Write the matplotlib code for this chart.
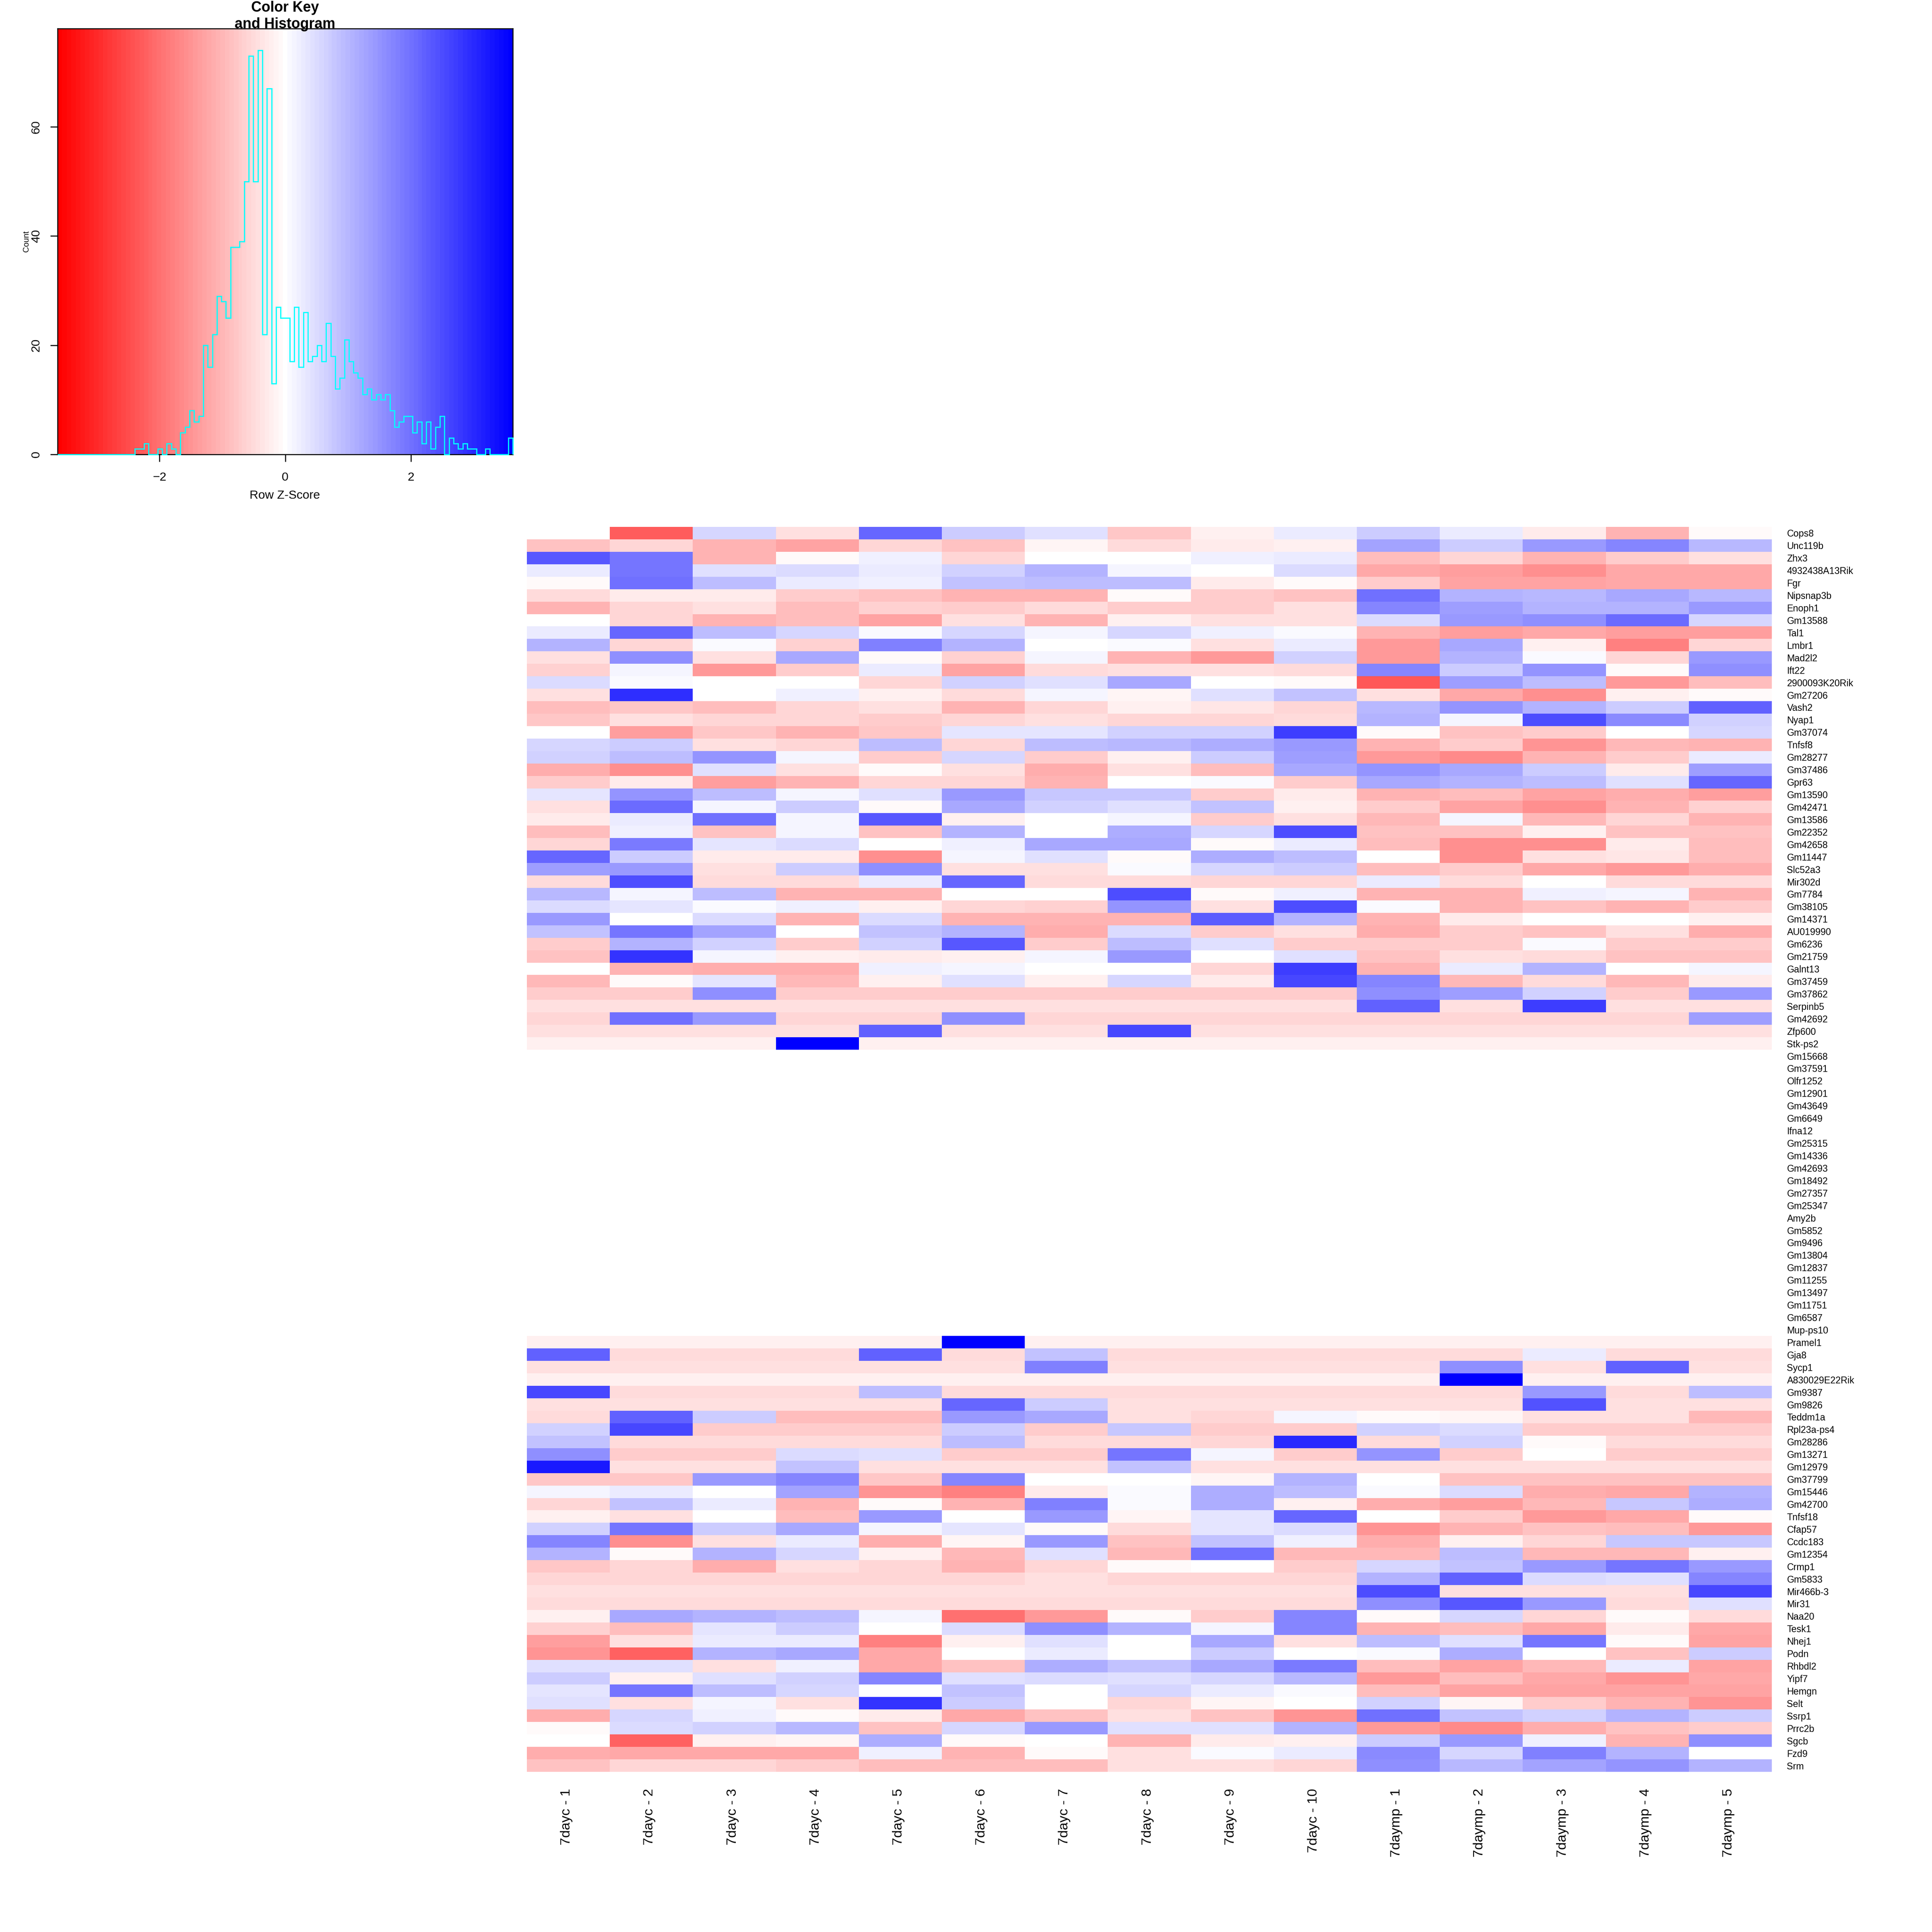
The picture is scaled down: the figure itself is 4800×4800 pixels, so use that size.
import numpy as np
import matplotlib
matplotlib.use("Agg")
import matplotlib.pyplot as plt
from matplotlib.colors import LinearSegmentedColormap

plt.rcParams['font.family'] = ['Liberation Sans', 'DejaVu Sans']

samples = ["7dayc - 1", "7dayc - 2", "7dayc - 3", "7dayc - 4", "7dayc - 5",
           "7dayc - 6", "7dayc - 7", "7dayc - 8", "7dayc - 9", "7dayc - 10",
           "7daymp - 1", "7daymp - 2", "7daymp - 3", "7daymp - 4", "7daymp - 5"]

genes = ["Cops8", "Unc119b", "Zhx3", "4932438A13Rik", "Fgr", "Nipsnap3b", "Enoph1", "Gm13588",
         "Tal1", "Lmbr1", "Mad2l2", "Ift22", "2900093K20Rik", "Gm27206", "Vash2", "Nyap1",
         "Gm37074", "Tnfsf8", "Gm28277", "Gm37486", "Gpr63", "Gm13590", "Gm42471", "Gm13586",
         "Gm22352", "Gm42658", "Gm11447", "Slc52a3", "Mir302d", "Gm7784", "Gm38105", "Gm14371",
         "AU019990", "Gm6236", "Gm21759", "Galnt13", "Gm37459", "Gm37862", "Serpinb5", "Gm42692",
         "Zfp600", "Stk-ps2", "Gm15668", "Gm37591", "Olfr1252", "Gm12901", "Gm43649", "Gm6649",
         "Ifna12", "Gm25315", "Gm14336", "Gm42693", "Gm18492", "Gm27357", "Gm25347", "Amy2b",
         "Gm5852", "Gm9496", "Gm13804", "Gm12837", "Gm11255", "Gm13497", "Gm11751", "Gm6587",
         "Mup-ps10", "Pramel1", "Gja8", "Sycp1", "A830029E22Rik", "Gm9387", "Gm9826", "Teddm1a",
         "Rpl23a-ps4", "Gm28286", "Gm13271", "Gm12979", "Gm37799", "Gm15446", "Gm42700", "Tnfsf18",
         "Cfap57", "Ccdc183", "Gm12354", "Crmp1", "Gm5833", "Mir466b-3", "Mir31", "Naa20",
         "Tesk1", "Nhej1", "Podn", "Rhbdl2", "Yipf7", "Hemgn", "Selt", "Ssrp1",
         "Prrc2b", "Sgcb", "Fzd9", "Srm"]

# z scores, rows above the blank block
z_top = [
    [0, -2.3, .55, -.45, 2.15, .7, .42, -.8, -.2, .3, .7, .3, -.3, -1.05, -.05],
    [-.85, -.6, -1.1, -1.3, -.55, -.85, -.15, -.5, -.3, -.2, 1.3, .7, 1.4, 1.75, 1.0],
    [2.4, 1.9, -1.1, -.05, .2, -.6, 0, 0, .2, .3, -.95, -.55, -1.05, -.75, -.4],
    [.3, 1.9, .42, .5, .3, .65, 1.05, .15, 0, .5, -1.2, -1.35, -1.55, -1.25, -1.25],
    [-.05, 2.0, .95, .3, .2, .85, .9, .9, -.3, -.05, -.75, -1.3, -1.3, -1.25, -1.2],
    [-.5, -.3, -.3, -.7, -.85, -1.05, -1.1, -.05, -.75, -.85, 2.0, 1.05, 1.0, 1.2, 1.0],
    [-1.05, -.55, -.4, -.95, -.65, -.72, -.5, -.72, -.75, -.4, 1.75, 1.35, 1.05, 1.05, 1.45],
    [0, -.58, -1.05, -.9, -1.3, -.45, -1.05, -.2, -.4, -.4, .5, 1.4, 1.55, 2.1, .55],
    [.3, 2.15, .95, .55, .08, .55, .15, .55, .2, .08, -1.1, -1.35, -1.25, -1.35, -1.35],
    [1.05, -.58, .07, -.65, 1.8, 1.05, 0, .07, -.45, .3, -1.4, 1.25, -.2, -1.8, -.55],
    [-.4, 1.55, -.4, 1.2, -.07, -.65, .15, -1.1, -1.4, .65, -1.4, 1.1, .07, -.6, 1.45],
    [-.65, .15, -1.4, -.75, .3, -1.3, -.5, -.42, -.42, -.5, 1.75, .75, 1.5, -.05, 1.55],
    [.5, .07, 0, 0, -.58, .65, .42, 1.25, 0, -.05, -2.35, 1.35, .9, -1.45, -.95],
    [-.4, 2.95, 0, .2, -.2, -.5, .15, -.15, .42, .85, -.42, -1.25, -1.55, -.2, -.05],
    [-.95, -.8, -.95, -.6, -.45, -1.05, -.6, -.25, -.35, -.55, 1.0, 1.5, 1.1, .75, 2.2],
    [-.8, -.42, -.6, -.6, -.7, -.6, -.42, -.6, -.6, -.5, 1.05, .15, 2.5, 1.65, .65],
    [0, -1.35, -.8, -1.05, -.8, .35, .35, .65, .65, 2.75, -.1, -.85, -.7, 0, .55],
    [.55, .7, -.4, -.6, .95, -.6, .95, 1.0, 1.15, 1.4, -1.05, -.75, -1.5, -1.0, -1.05],
    [.65, .95, 1.5, .15, -.7, .55, -.7, -.25, .7, 1.35, -1.4, -1.65, -1.05, -.75, .3],
    [-1.15, -1.6, .4, -.45, -.07, -.45, -1.15, -.4, -.95, 1.2, 1.5, 1.2, .7, -.3, 1.35],
    [-.75, -.3, -1.35, -1.05, -.55, -.6, -1.05, 0, .07, -.7, 1.25, 1.1, .95, .45, 2.15],
    [.35, 1.5, .95, .15, .4, 1.45, .8, .8, -.72, -.3, -1.05, -.9, -1.3, -1.15, -1.35],
    [-.4, 2.05, .15, .7, -.07, 1.2, .65, .4, .85, -.25, -.7, -1.3, -1.6, -1.05, -.65],
    [-.3, .3, 2.0, .15, 2.35, -.2, 0, .15, -.75, -.42, -1.0, .15, -1.0, -.55, -1.05],
    [-.9, .2, -.85, .15, -.85, 1.05, 0, 1.15, .55, 2.5, -.85, -.85, -.2, -.85, -.85],
    [-.6, 1.85, .35, .5, 0, .2, 1.2, 1.2, -.07, .3, -.95, -1.55, -1.55, -.3, -.95],
    [2.15, .75, -.27, -.27, -1.6, .15, .45, -.05, 1.15, .95, 0, -1.55, -.45, -.35, -.95],
    [1.35, 1.45, -.45, .7, 1.55, -.42, -.42, .1, .6, .7, -.9, -.7, -1.2, -1.45, -1.15],
    [-.5, 2.5, -.5, -.5, .3, 2.15, -.5, -.5, -.55, -.55, .3, -.5, 0, -.5, -.5],
    [1.0, .15, .95, -1.1, -1.1, 0, 0, 2.5, -.1, .2, -1.1, -1.1, .22, .15, -1.1],
    [.5, .35, .07, .2, -.2, -.55, -.65, 1.5, -.4, 2.5, .07, -1.1, -.85, -1.1, -.7],
    [1.4, 0, .5, -1.1, .5, -1.1, -1.1, -1.1, 2.3, 1.05, -1.1, -.3, 0, 0, -.2],
    [.85, 1.9, 1.3, 0, .85, 1.05, -1.15, .5, -.7, -.4, -1.15, -.7, -.85, -.45, -1.15],
    [-.75, 1.05, .65, -.7, .65, 2.4, -.75, .9, .45, -.75, -.75, -.75, .07, -.75, -.75],
    [-.85, 2.85, .15, -.2, -.3, -.2, .15, 1.4, 0, .45, -.85, -.4, -.5, -.85, -.85],
    [0, -1.05, -1.15, -1.15, .2, .15, 0, 0, -.55, 2.75, -1.05, .3, 1.1, 0, .15],
    [-1.0, -.07, .35, -1.0, -.2, .45, -.2, .55, -.3, 2.6, 1.75, -1.0, -.5, -1.0, -.3],
    [-.7, -.7, 1.55, -.7, -.7, -.7, -.7, -.7, -.7, -.7, 1.55, 1.35, .65, -.7, 1.45],
    [-.42, -.42, -.42, -.42, -.42, -.42, -.42, -.42, -.42, -.42, 2.2, -.42, 2.75, -.42, -.42],
    [-.6, 2.0, 1.4, -.6, -.6, 1.55, -.6, -.6, -.6, -.6, -.6, -.6, -.6, -.6, 1.35],
    [-.42, -.42, -.42, -.42, 2.25, -.42, -.42, 2.6, -.42, -.42, -.42, -.42, -.42, -.42, -.42],
    [-.2, -.2, -.2, 3.62, -.2, -.2, -.2, -.2, -.2, -.2, -.2, -.2, -.2, -.2, -.2],
]

# rows below the blank block
z_bottom = [
    [-.2, -.2, -.2, -.2, -.2, 3.62, -.2, -.2, -.2, -.2, -.2, -.2, -.2, -.2, -.2],
    [2.25, -.5, -.5, -.5, 2.2, -.5, .85, -.5, -.5, -.5, -.5, -.5, .3, -.5, -.5],
    [-.42, -.42, -.42, -.42, -.42, -.42, 1.8, -.42, -.42, -.42, -.42, 1.55, -.42, 2.25, -.42],
    [-.2, -.2, -.2, -.2, -.2, -.2, -.2, -.2, -.2, -.2, -.2, 3.62, -.2, -.2, -.2],
    [2.6, -.5, -.5, -.5, .95, -.5, -.5, -.5, -.5, -.5, -.5, -.5, 1.4, -.5, .95],
    [-.42, -.42, -.42, -.42, -.42, 2.15, .7, -.42, -.42, -.42, -.42, -.42, 2.45, -.42, -.42],
    [-.48, 2.25, .7, -.95, -.95, 1.4, 1.2, -.45, -.55, .15, -.07, -.12, -.42, -.42, -1.0],
    [.65, 2.6, -.7, -.7, -.7, .7, -.7, .8, -.7, -.7, .65, .5, -.7, -.7, -.7],
    [.85, -.52, -.52, -.52, -.52, .95, -.52, -.52, -.55, 3.0, -.52, .65, -.05, -.52, -.52],
    [1.6, -.72, -.72, .5, .42, -.72, -.72, 1.9, .15, -.75, 1.5, -.72, 0, -.72, -.72],
    [3.2, -.42, -.42, .85, -.42, -.42, -.42, .85, -.42, -.42, -.42, -.42, -.42, -.42, -.42],
    [-.8, -.8, 1.45, 1.7, -.8, 1.7, 0, 0, -.12, 1.1, 0, -.85, -.85, -.85, -.85],
    [.15, .3, 0, 1.3, -1.5, -1.8, -.3, .07, 1.15, .95, .07, .5, -1.15, -1.2, 1.05],
    [-.55, .85, .3, -1.1, -.1, -1.1, 1.8, .07, 1.15, -.2, -1.15, -1.35, -1.0, .8, 1.15],
    [-.25, -.42, -.03, -.9, 1.4, 0, 1.4, -.12, .35, 2.15, 0, -.7, -1.4, -1.2, -.05],
    [.65, 1.9, .7, 1.2, .15, .35, -.05, -.5, .35, .5, -1.5, -1.05, -.85, -.9, -1.4],
    [1.75, -1.6, -.42, .3, -1.15, -.15, 1.45, -.85, .85, .2, -1.15, -.2, -.6, .8, .8],
    [1.1, -.05, 1.05, .55, -.2, -1.0, .42, -1.0, 2.0, -1.0, -1.0, .95, -1.0, -1.0, -.2],
    [-.8, -.55, -1.15, -.42, -.6, -1.05, -.6, -.1, 0, -.75, .6, .85, 1.4, 1.9, 1.4],
    [-.6, -.6, -.6, -.6, -.6, -.6, -.45, -.6, -.6, -.6, 1.1, 2.25, .5, .4, 1.75],
    [-.4, -.4, -.4, -.4, -.4, -.4, -.4, -.4, -.4, -.4, 2.5, -.4, -.4, -.4, 2.6],
    [-.5, -.5, -.5, -.5, -.5, -.5, -.5, -.5, -.5, -.5, 1.55, 2.4, 1.45, -.5, .4],
    [-.2, 1.2, 1.05, .95, .15, -2.0, -1.4, -.07, -.7, 1.7, -.1, .55, -.55, -.05, -.5],
    [-.65, -.95, .35, .7, 0, .5, 1.55, 1.1, .15, 1.7, -1.1, -.95, -1.2, -.3, -1.25],
    [-1.35, -.45, .3, .3, -1.8, -.2, .45, 0, 1.2, -.42, .95, .4, 1.9, -.07, -1.3],
    [-1.5, -2.2, 1.1, 1.25, -1.2, 0, .3, 0, .7, 0, .07, 1.15, 0, -.85, .7],
    [.45, .45, -.4, .2, -1.2, -.85, 1.15, .85, 1.25, 1.85, -.9, -1.3, -1.0, .3, -1.3],
    [.7, -.25, .4, .65, 1.7, .45, .5, .45, .55, 1.0, -1.45, -.9, -1.2, -1.5, -1.25],
    [.35, 1.9, .95, .55, 0, .85, 0, .55, .3, .07, -.95, -1.3, -1.3, -1.3, -1.3],
    [.45, -.42, .15, -.42, 2.85, .7, 0, -.55, -.12, 0, .65, -.15, -.7, -1.1, -1.5],
    [-1.15, .55, .2, -.05, -.3, -1.25, -.85, -.42, -.85, -1.5, 2.0, .85, .65, 1.05, .7],
    [-.05, .5, .65, 1.0, -.85, .55, 1.45, .45, .45, 1.05, -1.45, -1.65, -1.15, -.85, -.75],
    [0, -2.2, -.2, -.12, 1.15, -.05, 0, -1.05, -.3, -.2, .7, 1.4, .2, -1.05, 1.55],
    [-1.15, -1.2, -1.2, -1.2, .2, -1.05, -.07, -.42, .07, .3, 1.65, .55, 1.8, 1.05, 0],
    [-.85, -.55, -.6, -.7, -.95, -.95, -.9, -.42, -.42, -.6, 1.55, 1.0, 1.3, 1.5, 1.05],
]

# counts of the key histogram, 100 equal bins over the key range
hist_counts = [0, 0, 0, 0, 0, 0, 0, 0, 0, 0, 0, 0, 0, 0, 0, 0, 0, 1, 1, 2,
               0, 0, 1, 0, 2, 1, 0, 4, 5, 8, 6, 7, 20, 16, 22, 29, 28, 25, 38, 38,
               39, 50, 73, 50, 74, 22, 67, 13, 27, 25, 25, 17, 27, 16, 26, 17, 18, 20, 17, 24,
               18, 12, 14, 21, 17, 15, 14, 11, 12, 10, 11, 10, 11, 8, 5, 6, 7, 7, 4, 6,
               2, 6, 1, 5, 7, 0, 3, 2, 1, 2, 1, 1, 0, 0, 1, 0, 0, 0, 0, 3]

zmax = 3.62
W = 4800.0


def fx(px):
    return px / W


def fy(px):
    return 1 - px / W


cmap = LinearSegmentedColormap.from_list("rwb", ["red", "white", "blue"], N=101)

fig = plt.figure(figsize=(16, 16), dpi=300)

# colour key
key = fig.add_axes([fx(143), fy(1129), fx(1274 - 143), (1129 - 71) / W])
grad = np.linspace(-zmax, zmax, 400).reshape(1, -1)
key.imshow(grad, extent=[-zmax, zmax, 0, 78], aspect="auto", cmap=cmap,
           vmin=-zmax, vmax=zmax, interpolation="nearest")
edges = np.linspace(-zmax, zmax, len(hist_counts) + 1)
key.stairs(hist_counts, edges, color="cyan", lw=0.7, baseline=0, zorder=5, clip_on=False)
key.set_xlim(-zmax, zmax)
key.set_ylim(0, 78)
key.set_xticks([-2, 0, 2])
key.set_yticks([0, 20, 40, 60])
key.tick_params(axis="x", length=4.4, width=0.6, pad=6, labelsize=7.2)
key.tick_params(axis="y", length=4.4, width=0.6, pad=5, labelsize=7.2, labelrotation=90)
for t in key.get_yticklabels():
    t.set_va("center")
for s in key.spines.values():
    s.set_linewidth(0.6)

fig.text(fx(708), fy(1231), "Row Z-Score", ha="center", va="center", fontsize=7.2)
fig.text(fx(65), fy(600), "Count", rotation=90, ha="center", va="center", fontsize=4.8)
fig.text(fx(708), fy(29), "Color Key", ha="center", va="baseline", fontsize=8.6, fontweight="bold")
fig.text(fx(708), fy(70), "and Histogram", ha="center", va="baseline", fontsize=8.6, fontweight="bold")

# heatmap, the rows between the two blocks are empty
n_blank = len(genes) - len(z_top) - len(z_bottom)
blank = np.full((n_blank, len(samples)), np.nan)
z = np.vstack([np.array(z_top), blank, np.array(z_bottom)])

hm = fig.add_axes([fx(1309), fy(4402), fx(4402 - 1309), (4402 - 1309) / W])
hm.pcolormesh(np.arange(len(samples) + 1), np.arange(len(genes) + 1), z,
              cmap=cmap, vmin=-zmax, vmax=zmax)
hm.set_xlim(0, len(samples))
hm.set_ylim(len(genes), 0)
for s in hm.spines.values():
    s.set_visible(False)
hm.set_xticks([])
hm.yaxis.tick_right()
hm.set_yticks(np.arange(len(genes)) + 0.5)
hm.set_yticklabels(genes, fontsize=5.6)
hm.tick_params(axis="y", length=0, pad=9)
for i, name in enumerate(samples):
    hm.text(i + 0.52, len(genes) + 1.33, name, rotation=90, rotation_mode="anchor",
            ha="right", va="baseline", fontsize=8.2)

fig.savefig("out.png", dpi=300)
